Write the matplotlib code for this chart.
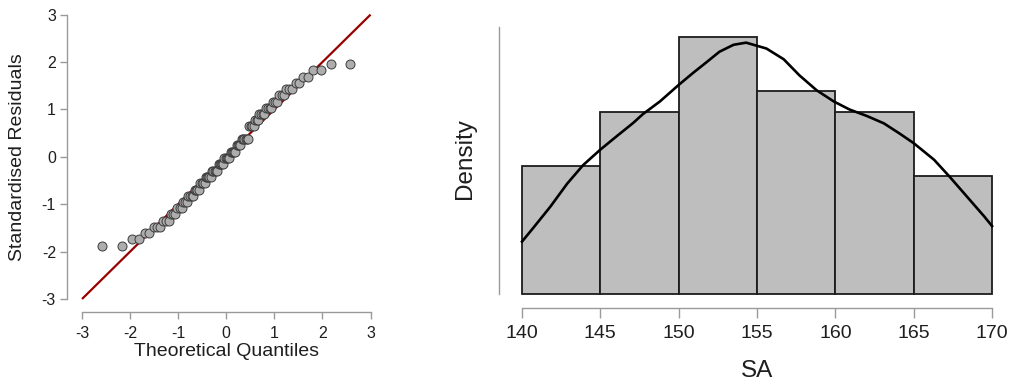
import matplotlib
matplotlib.use("Agg")
import matplotlib.pyplot as plt

plt.rcParams['font.family'] = ['Liberation Sans', 'DejaVu Sans']
plt.rcParams['axes.unicode_minus'] = False

# ---------------- Q-Q plot data ----------------
theo_q = [-2.58, -2.17, -1.96, -1.81, -1.70, -1.60, -1.51, -1.44, -1.37, -1.31,
          -1.25, -1.20, -1.15, -1.10, -1.06, -1.02, -0.97, -0.93, -0.90, -0.86,
          -0.82, -0.79, -0.76, -0.72, -0.69, -0.66, -0.63, -0.60, -0.57, -0.54,
          -0.51, -0.48, -0.45, -0.43, -0.40, -0.37, -0.35, -0.32, -0.29, -0.27,
          -0.24, -0.22, -0.19, -0.16, -0.14, -0.11, -0.09, -0.06, -0.04, -0.01,
          0.01, 0.04, 0.06, 0.09, 0.11, 0.14, 0.16, 0.19, 0.22, 0.24,
          0.27, 0.29, 0.32, 0.35, 0.37, 0.40, 0.43, 0.45, 0.48, 0.51,
          0.54, 0.57, 0.60, 0.63, 0.66, 0.69, 0.72, 0.76, 0.79, 0.82,
          0.86, 0.90, 0.93, 0.97, 1.02, 1.06, 1.10, 1.15, 1.20, 1.25,
          1.31, 1.37, 1.44, 1.51, 1.60, 1.70, 1.81, 1.96, 2.17, 2.58]

std_resid = [-1.88, -1.88,
             -1.74, -1.74,
             -1.61, -1.61,
             -1.48, -1.48, -1.48,
             -1.35, -1.35, -1.35,
             -1.21, -1.21, -1.21,
             -1.08, -1.08, -1.08,
             -0.95, -0.95, -0.95,
             -0.82, -0.82, -0.82, -0.82,
             -0.69, -0.69, -0.69, -0.69,
             -0.55, -0.55, -0.55, -0.55,
             -0.42, -0.42, -0.42, -0.42, -0.42,
             -0.29, -0.29, -0.29, -0.29, -0.29,
             -0.16, -0.16, -0.16, -0.16, -0.16,
             -0.03, -0.03, -0.03, -0.03, -0.03,
             0.11, 0.11, 0.11, 0.11, 0.11,
             0.24, 0.24, 0.24, 0.24,
             0.37, 0.37, 0.37, 0.37, 0.37, 0.37,
             0.64, 0.64, 0.64, 0.64,
             0.77, 0.77, 0.77,
             0.90, 0.90, 0.90, 0.90,
             1.03, 1.03, 1.03, 1.03,
             1.16, 1.16, 1.16,
             1.30, 1.30, 1.30,
             1.43, 1.43, 1.43,
             1.56, 1.56,
             1.69, 1.69,
             1.83, 1.83,
             1.96, 1.96]

ref_line_x = [-3, 3]
ref_line_y = [-3, 3]
qq_ticks = [-3, -2, -1, 0, 1, 2, 3]

# ---------------- Histogram data ----------------
bin_left = [140, 145, 150, 155, 160, 165]
bin_density = [0.024, 0.034, 0.048, 0.038, 0.034, 0.022]
sa_ticks = [140, 145, 150, 155, 160, 165, 170]

kde_x = [140.0, 140.7, 141.8, 142.9, 143.9, 145.0, 146.0, 147.1, 147.7, 148.8,
         150.0, 150.9, 151.8, 152.6, 153.5, 154.3, 155.6, 156.7, 157.7, 158.8,
         159.9, 160.9, 162.0, 163.1, 164.1, 165.0, 166.3, 167.3, 168.4, 169.5, 170.0]
kde_y = [0.0098, 0.0123, 0.0163, 0.0207, 0.0241, 0.0270, 0.0294, 0.0320, 0.0336, 0.0360,
         0.0391, 0.0413, 0.0434, 0.0453, 0.0466, 0.0470, 0.0459, 0.0439, 0.0409, 0.0381,
         0.0360, 0.0345, 0.0333, 0.0319, 0.0300, 0.0282, 0.0251, 0.0219, 0.0182, 0.0145, 0.0127]

W, H = 1013, 385
fig = plt.figure(figsize=(W / 100, H / 100), dpi=100)

axis_grey = '#9a9a9a'
txt = '#1e1e1e'

# ---------------- Left: Q-Q plot ----------------
ax1 = fig.add_axes([67 / W, (H - 312) / H, (372 - 67) / W, (312 - 12) / H])
ax1.set_xlim(-3.312, 3.03)
ax1.set_ylim(-3.274, 3.055)
ax1.plot(ref_line_x, ref_line_y, color='#990000', lw=1.6, zorder=2, solid_capstyle='butt')
ax1.scatter(theo_q, std_resid, s=42, facecolor='#adadad', edgecolor='#3c3c3c',
            linewidths=0.7, zorder=3, clip_on=False)
for s in ['top', 'right']:
    ax1.spines[s].set_visible(False)
for s in ['left', 'bottom']:
    ax1.spines[s].set_color(axis_grey)
    ax1.spines[s].set_linewidth(1.0)
ax1.spines['left'].set_bounds(-3, 3)
ax1.spines['bottom'].set_bounds(-3, 3)
ax1.set_xticks(qq_ticks)
ax1.set_yticks(qq_ticks)
ax1.tick_params(direction='out', length=5, width=1.0, color=axis_grey,
                labelsize=11.5, labelcolor=txt)
ax1.tick_params(axis='x', pad=5)
ax1.tick_params(axis='y', pad=3)
fig.text(226 / W, (H - 351) / H, 'Theoretical Quantiles', ha='center', va='center',
         fontsize=14, color=txt)
fig.text(18 / W, (H - 157) / H, 'Standardised Residuals', ha='center', va='center',
         rotation=90, fontsize=14, color=txt)

# ---------------- Right: histogram + density ----------------
ax2 = fig.add_axes([499 / W, (H - 308) / H, (993 - 499) / W, (308 - 25) / H])
ax2.set_xlim(138.53, 170.06)
ax2.set_ylim(-0.00262, 0.0503)
ax2.bar(bin_left, bin_density, width=5, align='edge', color='#bebebe',
        edgecolor='#1c1c1c', linewidth=1.3, zorder=2, clip_on=False)
ax2.plot(kde_x, kde_y, color='black', lw=1.9, zorder=3, clip_on=False)
for s in ['top', 'right']:
    ax2.spines[s].set_visible(False)
for s in ['left', 'bottom']:
    ax2.spines[s].set_color(axis_grey)
    ax2.spines[s].set_linewidth(1.0)
ax2.spines['left'].set_bounds(0, 0.05)
ax2.spines['bottom'].set_bounds(140, 170)
ax2.set_yticks([])
ax2.set_xticks(sa_ticks)
ax2.tick_params(axis='x', direction='out', length=7, width=1.0, color=axis_grey,
                labelsize=14, labelcolor=txt, pad=5)
fig.text(465 / W, (H - 159) / H, 'Density', ha='center', va='center',
         rotation=90, fontsize=17.5, color=txt)
fig.text(757 / W, (H - 371) / H, 'SA', ha='center', va='center',
         fontsize=17.5, color=txt)

fig.savefig('out.png', dpi=100)
